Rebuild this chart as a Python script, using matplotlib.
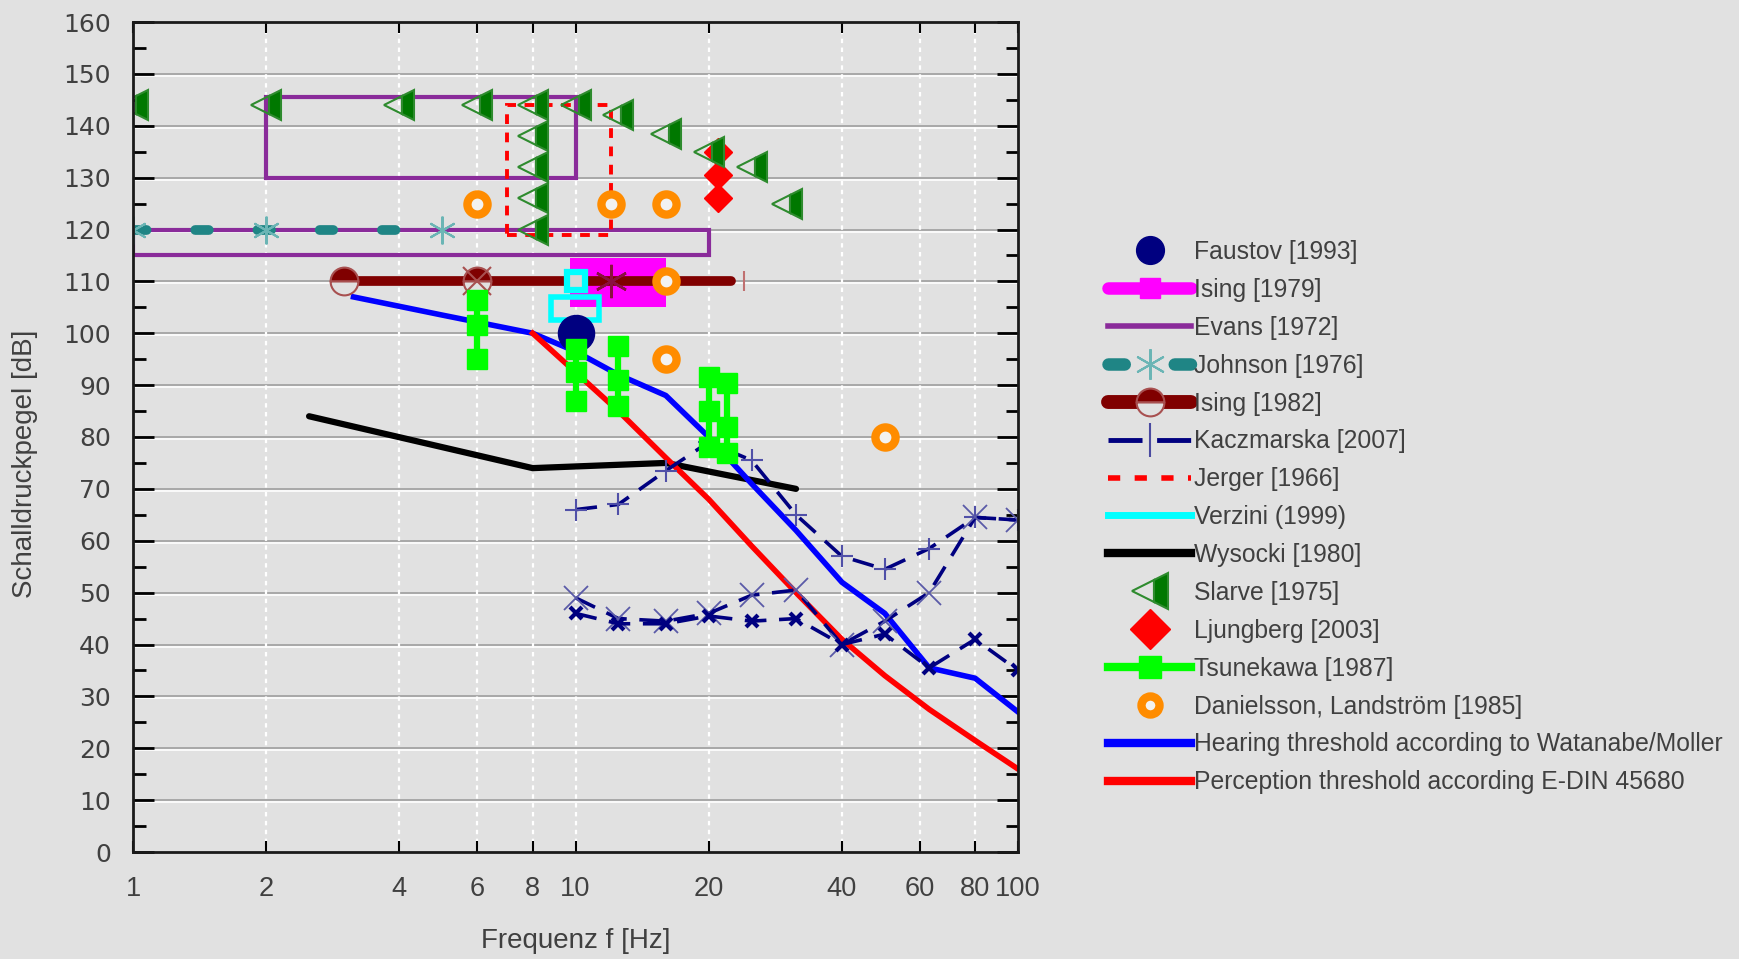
import numpy as np
import matplotlib
matplotlib.use("Agg")
import matplotlib.pyplot as plt
from matplotlib import font_manager as fm
from matplotlib.lines import Line2D
from matplotlib.patches import Rectangle
from matplotlib.transforms import ScaledTranslation
from matplotlib.ticker import FixedLocator, FixedFormatter, MultipleLocator, NullLocator

TXT = '#404040'
BG = '#e1e1e1'


def have_font(name):
    try:
        fm.findfont(fm.FontProperties(family=name), fallback_to_default=False)
        return True
    except ValueError:
        return False


# narrow face for labels and legend; size factor relative to a true narrow face
NARROW, SCALE = 'Liberation Sans', 0.80
for name, k in [('Liberation Sans Narrow', 1.0), ('DejaVu Sans Condensed', 0.8)]:
    if have_font(name):
        NARROW, SCALE = name, k
        break

# --- data ---------------------------------------------------------------
faustov_f = [10]
faustov_db = [100]

ising79_f = [9.7, 16]
ising79_db = [105, 114.5]

evans_f = [[2, 10], [1, 20]]
evans_db = [[130, 145.5], [115, 120]]

johnson_f = [1, 2, 5]
johnson_db = [120, 120, 120]

ising82_db = 110
ising82_line_f = [3, 22.5]
ising82_half_f = [3, 6]
ising82_x_f = [6]
ising82_star_f = [12]
ising82_bar_f = [24]

kacz_f = [10, 12.5, 16, 20, 25, 31.5, 40, 50, 63, 80, 100]
kacz_plus = [66, 67, 73.5, 79, 75.5, 65, 57, 54.5, 58.5, 64.5, 64]
kacz_xbig = [49, 45, 44.5, 46, 49.5, 50.5, 40, 44.5, 50, 64.5, 64]
kacz_xsmall = [46, 44, 44, 45.5, 44.5, 45, 40, 42, 35.5, 41, 35]

jerger_f = [7, 12]
jerger_db = [119, 144]

verzini_sq_f = [10]
verzini_sq_db = [110]
verzini_box_f = [8.8, 11.3]
verzini_box_db = [102.6, 107]

wysocki_f = [2.5, 8, 16, 31.5]
wysocki_db = [84, 74, 75, 70]

slarve_f = [1, 2, 4, 6, 8, 8, 8, 8, 8, 10, 12.5, 16, 20, 25, 30]
slarve_db = [144, 144, 144, 144, 144, 138, 132, 126, 120, 144, 142, 138.5, 135, 132, 125]

ljung_f = [21, 21, 21]
ljung_db = [135, 130.5, 126]

tsune_f = [6, 10, 12.5, 20, 22]
tsune_db = [[106.5, 101.5, 95], [97, 92.5, 87], [97.5, 91, 86],
            [91.5, 85, 78], [90.5, 82, 77]]

daniel_f = [6, 12, 16, 16, 16, 50]
daniel_db = [125, 125, 125, 110, 95, 80]

hear_f = [3.15, 5, 8, 10, 12.5, 16, 20, 25, 31.5, 40, 50, 63, 80, 100]
hear_db = [107, 103.5, 100, 96.5, 92, 88, 80, 71, 62, 52, 46, 35.5, 33.5, 27]

perc_f = [8, 10, 12.5, 16, 20, 25, 31.5, 40, 50, 63, 80, 100]
perc_db = [100, 92.5, 85, 76, 68, 59, 50, 41, 34, 27.5, 21.5, 16]

xticks = [1, 2, 4, 6, 8, 10, 20, 40, 60, 80, 100]
labels = ['Faustov [1993]', 'Ising [1979]', 'Evans [1972]', 'Johnson [1976]',
          'Ising [1982]', 'Kaczmarska [2007]', 'Jerger [1966]', 'Verzini (1999)',
          'Wysocki [1980]', 'Slarve [1975]', 'Ljungberg [2003]', 'Tsunekawa [1987]',
          'Danielsson, Landström [1985]',
          'Hearing threshold according to Watanabe/Moller',
          'Perception threshold according E-DIN 45680']

navy = '#000080'
magenta = '#ff00ff'
purple = '#8a2b9a'
teal = '#1f8585'
lteal = '#6bb5b5'
maroon = '#800000'
dgreen = '#007800'
lgreen = '#2e8b2e'
lime = '#00ff00'
orange = '#ff8c00'

# --- figure -------------------------------------------------------------
fig = plt.figure(figsize=(17.39, 9.59), dpi=100, facecolor=BG)
ax = fig.add_axes([133/1739, 107/959, 885/1739, 830/959], facecolor=BG)
ax.set_xscale('log')
ax.set_xlim(1, 100)
ax.set_ylim(0, 160)

# grid: grey line with a white line just underneath, dashed white verticals
shift = ScaledTranslation(0, -1.5/72, fig.dpi_scale_trans)
for y in range(10, 160, 10):
    ax.axhline(y, color='#a8a8a8', lw=1.4, zorder=0.5)
    ax.add_line(Line2D([0, 1], [y, y], color='white', lw=1.2, zorder=0.4,
                       transform=ax.get_yaxis_transform() + shift))
for x in xticks[1:-1]:
    ax.axvline(x, color='white', lw=1.6, ls=(0, (2, 2)), zorder=0.6)

# Evans
for fr, dbr in zip(evans_f, evans_db):
    ax.add_patch(Rectangle((fr[0], dbr[0]), fr[1]-fr[0], dbr[1]-dbr[0],
                           fill=False, ec=purple, lw=3, zorder=3))

# Johnson
ax.plot(johnson_f[0:1] + johnson_f[-1:], [120, 120], color=teal, lw=7,
        ls=(0, (1.4, 5.0)), dash_capstyle='round', zorder=4)
ax.plot(johnson_f, johnson_db, ls='none', marker=(6, 2, 0), ms=20, mec=lteal, mew=1.5, zorder=4)

# Jerger
ax.add_patch(Rectangle((jerger_f[0], jerger_db[0]), jerger_f[1]-jerger_f[0],
                       jerger_db[1]-jerger_db[0], fill=False, ec='red', lw=2.8,
                       ls=(0, (2.5, 2.2)), zorder=4))

# Ising 1979
ax.add_patch(Rectangle((ising79_f[0], ising79_db[0]), ising79_f[1]-ising79_f[0],
                       ising79_db[1]-ising79_db[0], fc=magenta, ec='none', zorder=3))

# Ising 1982
ax.plot(ising82_line_f, [ising82_db]*2, color=maroon, lw=7, solid_capstyle='round', zorder=5)
ax.plot(ising82_half_f, [ising82_db]*len(ising82_half_f), ls='none', marker='o', ms=20,
        fillstyle='top', mfc=maroon, markerfacecoloralt=BG, mec='#a85050', mew=1.5, zorder=6)
ax.plot(ising82_x_f, [ising82_db], ls='none', marker='x', ms=20, mec='#a85050', mew=1.5, zorder=6)
ax.plot(ising82_star_f, [ising82_db], ls='none', marker=(6, 2, 0), ms=24, mec='#8a1040', mew=1.8, zorder=6)
ax.plot(ising82_bar_f, [ising82_db], ls='none', marker='|', ms=14, mec='#c07070', mew=1.5, zorder=6)

# Verzini
ax.add_patch(Rectangle((verzini_box_f[0], verzini_box_db[0]), verzini_box_f[1]-verzini_box_f[0],
                       verzini_box_db[1]-verzini_box_db[0], fill=False, ec='cyan', lw=4, zorder=7))
ax.plot(verzini_sq_f, verzini_sq_db, ls='none', marker='s', ms=13, mfc='#d8d8d8', mec='cyan', mew=4.5, zorder=7)

# Wysocki, thresholds
ax.plot(wysocki_f, wysocki_db, color='black', lw=4.5, solid_capstyle='round', zorder=5)
ax.plot(hear_f, hear_db, color='blue', lw=4, zorder=5)
ax.plot(perc_f, perc_db, color='red', lw=4, zorder=5)

# Kaczmarska
kd = dict(color=navy, lw=2.6, ls=(0, (6, 3.5)), zorder=6)
ax.plot(kacz_f, kacz_plus, marker='+', ms=16, mec='#5050a8', mew=1.5, **kd)
ax.plot(kacz_f, kacz_xbig, marker='x', ms=17, mec='#5a5aa8', mew=1.3, **kd)
ax.plot(kacz_f, kacz_xsmall, marker='x', ms=9, mec=navy, mew=3, **kd)

# Faustov
ax.plot(faustov_f, faustov_db, ls='none', marker='o', ms=26, color=navy, zorder=7)

# Tsunekawa
for f, dbs in zip(tsune_f, tsune_db):
    ax.plot([f]*len(dbs), dbs, color=lime, lw=4.5, marker='s', ms=14, zorder=8)

# Danielsson
ax.plot(daniel_f, daniel_db, ls='none', marker='o', ms=14.5, mfc='#f2f2f2', mec=orange, mew=6, zorder=8)

# Ljungberg
ax.plot(ljung_f, ljung_db, ls='none', marker='D', ms=14, color='red', zorder=8)

# Slarve
ax.plot(slarve_f, slarve_db, ls='none', marker='<', ms=22, fillstyle='right',
        mfc=dgreen, markerfacecoloralt='none', mec=lgreen, mew=1.5, zorder=9)

# --- axes styling ---------------------------------------------------------
for s in ax.spines.values():
    s.set_linewidth(2)
    s.set_color('#1a1a1a')
    s.set_zorder(10)
ax.xaxis.set_major_locator(FixedLocator(xticks))
ax.xaxis.set_major_formatter(FixedFormatter([str(v) for v in xticks]))
ax.xaxis.set_minor_locator(NullLocator())
ax.yaxis.set_major_locator(MultipleLocator(10))
ax.yaxis.set_minor_locator(MultipleLocator(5))
ax.tick_params(axis='y', which='major', direction='in', length=15, width=2,
               left=True, right=True, labelsize=18, labelcolor=TXT, pad=16)
ax.tick_params(axis='y', which='minor', direction='in', length=9, width=2, left=True, right=True)
ax.tick_params(axis='x', which='major', direction='in', length=8, width=1.5,
               top=True, bottom=True, labelsize=24.5*SCALE, labelcolor=TXT, pad=17)
for lab in ax.get_xticklabels():
    lab.set_family(NARROW)
for lab in ax.get_yticklabels():
    lab.set_family('DejaVu Sans')

ax.set_xlabel('Frequenz f [Hz]', family=NARROW, fontsize=25*SCALE, color=TXT, labelpad=19)
ax.set_ylabel('Schalldruckpegel [dB]', family=NARROW, fontsize=25*SCALE, color=TXT)
ax.yaxis.set_label_coords(-0.107, 0.468)

# --- legend ---------------------------------------------------------------
handles = [
    Line2D([], [], ls='none', marker='o', ms=20, color=navy),
    Line2D([], [], color=magenta, lw=9, solid_capstyle='round', marker='s', ms=15),
    Line2D([], [], color=purple, lw=4),
    Line2D([], [], color=teal, lw=9, ls=(0, (1.3, 4.0)), dash_capstyle='round',
           marker=(6, 2, 0), ms=22, mec=lteal, mew=1.5),
    Line2D([], [], color=maroon, lw=10, solid_capstyle='round', marker='o', ms=20,
           fillstyle='top', mfc=maroon, markerfacecoloralt=BG, mec='#a85050', mew=1.5),
    Line2D([], [], color=navy, lw=3.5, ls=(0, (7, 3)), marker='|', ms=24, mec='#4a4aa0', mew=1.5),
    Line2D([], [], color='red', lw=4, ls=(0, (2.2, 2.6))),
    Line2D([], [], color='cyan', lw=5),
    Line2D([], [], color='black', lw=6),
    Line2D([], [], ls='none', marker='<', ms=26, fillstyle='right', mfc=dgreen,
           markerfacecoloralt='none', mec=lgreen, mew=1.5),
    Line2D([], [], ls='none', marker='D', ms=20, color='red'),
    Line2D([], [], color=lime, lw=6, marker='s', ms=16),
    Line2D([], [], ls='none', marker='o', ms=13, mfc='#f2f2f2', mec=orange, mew=6),
    Line2D([], [], color='blue', lw=6),
    Line2D([], [], color='red', lw=6),
]
lsize = 22.3 * SCALE
leg = fig.legend(handles, labels, loc='upper left', bbox_to_anchor=(1108/1739, 1 - 240/959),
                 frameon=False, prop={'family': NARROW, 'size': lsize}, labelcolor=TXT,
                 handlelength=60/lsize, handletextpad=0.12, labelspacing=0.56,
                 borderpad=0, borderaxespad=0)

fig.savefig('out.png', dpi=100, facecolor=BG)
